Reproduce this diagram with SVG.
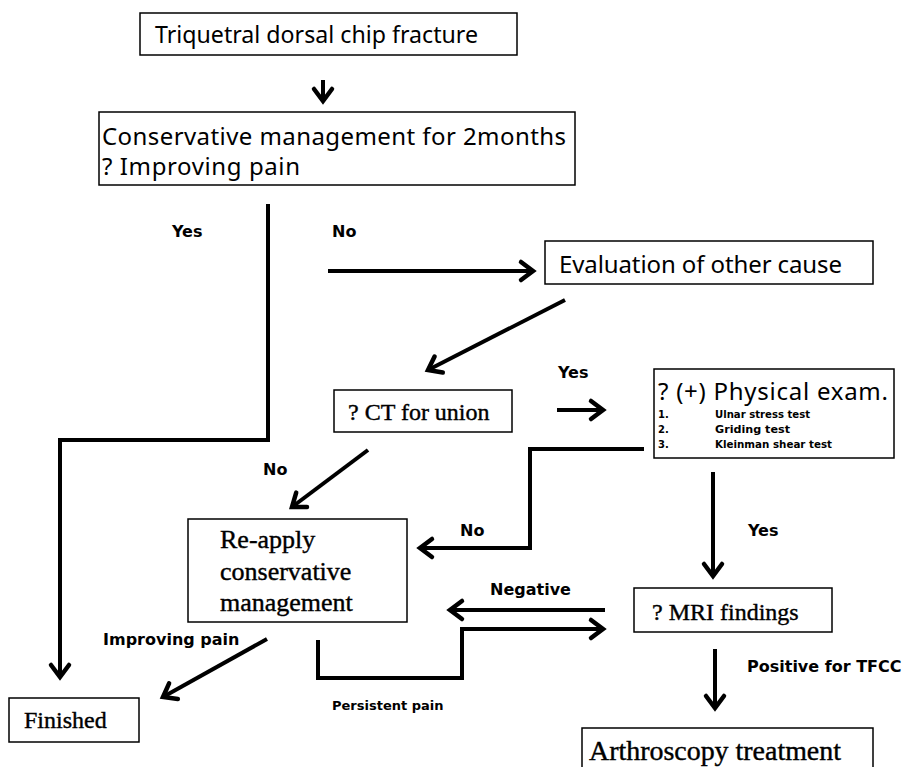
<svg xmlns="http://www.w3.org/2000/svg" width="907" height="767" viewBox="0 0 907 767">
<defs>
<marker id="ah" markerUnits="userSpaceOnUse" markerWidth="20" markerHeight="24" refX="14" refY="10" orient="auto" overflow="visible">
<path d="M2,1 L14,10 L2,19" fill="none" stroke="#000" stroke-width="4.5" stroke-linecap="round" stroke-linejoin="miter"/>
</marker>
</defs>
<style>
.box{fill:#fff;stroke:#000;stroke-width:1.5}
.sans{font-family:"Noto Sans","Open Sans","DejaVu Sans",sans-serif;font-size:24px;fill:#000}
.serif{font-family:"Liberation Serif","Times New Roman",serif;font-size:24px;fill:#000;stroke:#000;stroke-width:0.4}
.lab{font-family:"DejaVu Sans","Noto Sans",sans-serif;font-weight:bold;font-size:16px;fill:#000}
.item{font-family:"DejaVu Sans","Noto Sans",sans-serif;font-weight:bold;font-size:10px;fill:#000}
.ca{fill:none;stroke:#000;stroke-width:4;marker-end:url(#ah)}
</style>
<rect width="907" height="767" fill="#fff"/>
<g id="connectors">
<path class="ca" d="M323,80 L323,101"/>
<path class="ca" d="M268,204 L268,440 L60,440 L60,677"/>
<path class="ca" d="M328,271 L533,271"/>
<path class="ca" d="M565,300 L428,370"/>
<path class="ca" d="M557,410 L603,410"/>
<path class="ca" d="M644,449 L530,449 L530,548 L420,548"/>
<path class="ca" d="M368,450 L292,507"/>
<path class="ca" d="M713,472 L713,576"/>
<path class="ca" d="M605,610 L450,610"/>
<path class="ca" d="M318,640 L318,678 L462,678 L462,629 L603,629"/>
<path class="ca" d="M715,649 L715,708"/>
<path class="ca" d="M267,639 L163,697"/>
</g>
<g id="labels">
<text class="lab" x="172" y="237">Yes</text>
<text class="lab" x="332" y="237">No</text>
<text class="lab" x="558" y="378">Yes</text>
<text class="lab" x="263" y="475">No</text>
<text class="lab" x="460" y="536">No</text>
<text class="lab" x="748" y="536">Yes</text>
<text class="lab" x="490" y="595">Negative</text>
<text class="lab" x="103" y="645">Improving pain</text>
<text class="lab" x="747" y="672">Positive for TFCC</text>
<text class="lab" x="332" y="710" style="font-size:13px">Persistent pain</text>
</g>
<g id="n-fracture">
<rect class="box" x="140" y="13" width="377" height="42"/>
<text class="sans" x="155" y="43" textLength="323" lengthAdjust="spacingAndGlyphs">Triquetral dorsal chip fracture</text>
</g>
<g id="n-conservative">
<rect class="box" x="99" y="112" width="476" height="73"/>
<text class="sans" x="102" y="145" textLength="464" lengthAdjust="spacing">Conservative management for 2months</text>
<text class="sans" x="102" y="175" textLength="198" lengthAdjust="spacing">? Improving pain</text>
</g>
<g id="n-evaluation">
<rect class="box" x="545" y="241" width="328" height="43"/>
<text class="sans" x="559" y="273" textLength="283" lengthAdjust="spacing">Evaluation of other cause</text>
</g>
<g id="n-ct">
<rect class="box" x="334" y="390" width="178" height="42"/>
<text class="serif" x="348" y="420">? CT for union</text>
</g>
<g id="n-physical">
<rect class="box" x="654" y="369" width="240" height="89"/>
<text class="sans" x="658" y="400" textLength="230" lengthAdjust="spacing">? (+) Physical exam.</text>
<text class="item" x="658" y="418">1.</text>
<text class="item" x="715" y="418" textLength="95" lengthAdjust="spacingAndGlyphs">Ulnar stress test</text>
<text class="item" x="658" y="433">2.</text>
<text class="item" x="715" y="433" textLength="75" lengthAdjust="spacingAndGlyphs">Griding test</text>
<text class="item" x="658" y="448">3.</text>
<text class="item" x="715" y="448" textLength="117" lengthAdjust="spacingAndGlyphs">Kleinman shear test</text>
</g>
<g id="n-reapply">
<rect class="box" x="188" y="519" width="219" height="103"/>
<text class="serif" x="220" y="548" style="font-size:26px">Re-apply</text>
<text class="serif" x="220" y="580" style="font-size:26px">conservative</text>
<text class="serif" x="220" y="611" style="font-size:26px">management</text>
</g>
<g id="n-mri">
<rect class="box" x="634" y="588" width="198" height="44"/>
<text class="serif" x="652" y="620">? MRI findings</text>
</g>
<g id="n-finished">
<rect class="box" x="9" y="698" width="130" height="44"/>
<text class="serif" x="24" y="728">Finished</text>
</g>
<g id="n-arthroscopy">
<rect class="box" x="582" y="728" width="291" height="60"/>
<text class="serif" x="589" y="760" style="font-size:27px" textLength="252" lengthAdjust="spacingAndGlyphs">Arthroscopy treatment</text>
</g>
</svg>
